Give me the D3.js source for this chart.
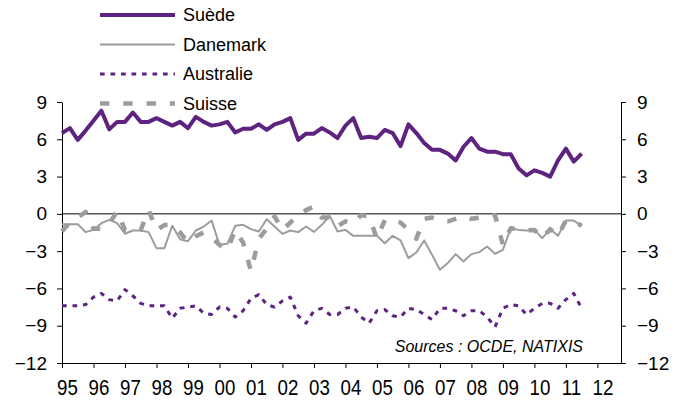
<!DOCTYPE html>
<html>
<head>
<meta charset="utf-8">
<script src="https://cdn.jsdelivr.net/npm/d3@7"></script>
<style>
  body { margin: 0; background: #fff; }
  svg { display: block; font-family: 'Liberation Sans', Arial, sans-serif; }
</style>
</head>
<body>
<div id="chart"></div>
<script>
// quarterly, 1995 Q1 .. 2012 Q4 on the axis, data up to 2011 Q3
const yearLabels = ['95', '96', '97', '98', '99', '00', '01', '02', '03', '04', '05', '06', '07', '08', '09', '10', '11', '12'];
const yTicks = [9, 6, 3, 0, -3, -6, -9, -12];

const suede = [
  6.5, 6.9, 5.95, 6.7, 7.5, 8.3, 6.8, 7.4, 7.4, 8.15, 7.4, 7.4, 7.7, 7.4, 7.1, 7.4,
  6.9, 7.8, 7.4, 7.1, 7.2, 7.4, 6.55, 6.85, 6.85, 7.2, 6.75, 7.2, 7.4, 7.7, 5.95, 6.45,
  6.45, 6.9, 6.55, 6.1, 7.1, 7.7, 6.1, 6.2, 6.1, 6.75, 6.5, 5.45, 7.2, 6.5, 5.7, 5.15,
  5.15, 4.85, 4.3, 5.4, 6.1, 5.25, 5.0, 5.0, 4.8, 4.8, 3.65, 3.1, 3.5, 3.3, 3.0, 4.3,
  5.25, 4.2, 4.85
];
const danemark = [
  -0.83, -0.83, -0.83, -1.47, -1.29, -0.75, -0.48, -0.75, -1.6, -1.34, -1.34, -1.47, -2.76, -2.76, -0.96, -2.04,
  -2.2, -1.34, -1.02, -0.54, -2.49, -2.41, -0.96, -0.88, -1.23, -1.42, -0.43, -1.02, -1.61, -1.34, -1.47, -1.02,
  -1.45, -0.88, -0.16, -1.42, -1.29, -1.77, -1.77, -1.77, -1.77, -2.36, -1.77, -2.14, -3.56, -3.11, -2.14, -3.3,
  -4.5, -3.96, -3.24, -3.83, -3.24, -3.08, -2.63, -3.22, -2.89, -1.15, -1.29, -1.34, -1.29, -1.95, -1.23, -1.77,
  -0.54, -0.54, -0.96
];
const australie = [
  -7.4, -7.4, -7.4, -7.3, -6.7, -6.4, -6.9, -7.0, -6.1, -6.6, -7.2, -7.4, -7.4, -7.4, -8.4, -7.6,
  -7.5, -7.4, -8.0, -8.1, -7.5, -7.6, -8.3, -7.8, -6.8, -6.5, -7.3, -7.5, -7.0, -6.7, -8.2, -8.8,
  -7.8, -7.6, -8.1, -8.1, -7.6, -7.5, -8.3, -8.8, -7.8, -7.7, -8.2, -8.3, -7.6, -7.7, -8.1, -8.5,
  -7.6, -7.6, -7.8, -8.2, -7.8, -7.8, -8.3, -9.1, -7.6, -7.3, -7.4, -8.1, -7.6, -7.2, -7.2, -7.6,
  -6.9, -6.4, -7.6
];
const suisse = [
  -1.4, -0.7, -0.3, 0.15, -1.2, -1.2, -0.8, 0.2, -1.3, -1.3, -1.3, 0.3, -1.3, -0.9, -0.9, -1.5,
  -2.3, -1.8, -1.5, -1.9, -2.5, -2.9, -1.3, -2.3, -4.6, -2.0, -1.2, -0.2, -1.3, -0.7, -0.1, 0.3,
  0.6, -0.3, -0.3, -1.0, -0.6, -0.8, -0.1, -0.2, -2.0, -0.5, -0.5, -0.7, -1.3, -2.0, -0.4, -0.3,
  -0.5, -0.6, -0.4, -0.2, -0.4, -0.3, -0.2, -0.1, -2.5, -1.15, -1.29, -1.34, -1.29, -1.95, -1.23, -1.77,
  -0.54, -0.54, -0.96
];

const Purple = '#5e2281';
const Gray = '#9c9c9c';

const series = [
  { name: 'Suède', values: suede, color: Purple, width: 4, dash: null },
  { name: 'Danemark', values: danemark, color: Gray, width: 2, dash: null },
  { name: 'Australie', values: australie, color: Purple, width: 3, dash: '4.7,5.8' },
  { name: 'Suisse', values: suisse, color: Gray, width: 4.5, dash: '9.3,14' },
];

const quarters = [];
yearLabels.forEach((yr) => {
  for (let q = 1; q <= 4; q++) quarters.push(yr + 'T' + q);
});

const width = 686;
const height = 409;

const svg = d3
  .select('#chart')
  .append('svg')
  .attr('width', width)
  .attr('height', height);

const x = d3.scalePoint().domain(d3.range(quarters.length)).range([62, 621]);
const y = d3.scaleLinear().domain([-12, 9]).range([363, 102]);

// left axis
const left = svg
  .append('g')
  .attr('transform', 'translate(62,0)')
  .call(d3.axisLeft(y).tickValues(yTicks).tickSize(5).tickSizeOuter(0).tickPadding(10));

// right axis
const right = svg
  .append('g')
  .attr('transform', 'translate(621,0)')
  .call(d3.axisRight(y).tickValues(yTicks).tickSize(5).tickSizeOuter(0).tickPadding(11));

// bottom axis
const bottom = svg
  .append('g')
  .attr('transform', `translate(0,${y(-12)})`)
  .call(
    d3
      .axisBottom(x)
      .tickValues(d3.range(0, quarters.length, 4))
      .tickFormat((d) => yearLabels[d / 4])
      .tickSize(5)
      .tickSizeOuter(0)
      .tickPadding(11)
  );

[left, right, bottom].forEach((g) => {
  g.select('.domain').attr('stroke', '#000');
  g.selectAll('.tick line').attr('stroke', '#000');
  g.selectAll('text').attr('font-size', 19).attr('fill', '#000').attr('font-family', null);
});

// year labels: taller, narrower glyphs
bottom
  .selectAll('text')
  .attr('font-size', 22)
  .attr('dx', 5.9)
  .attr('transform', 'scale(0.85,1)');

// zero line
svg
  .append('line')
  .attr('x1', 62)
  .attr('x2', 621)
  .attr('y1', y(0))
  .attr('y2', y(0))
  .attr('stroke', '#000')
  .attr('stroke-width', 1);

// lines
const line = d3
  .line()
  .x((d, i) => x(i))
  .y((d) => y(d));

svg
  .selectAll('.serie')
  .data(series)
  .join('path')
  .attr('class', 'serie')
  .attr('d', (d) => line(d.values))
  .attr('fill', 'none')
  .attr('stroke', (d) => d.color)
  .attr('stroke-width', (d) => d.width)
  .attr('stroke-dasharray', (d) => d.dash)
  .attr('stroke-linejoin', 'round');

// legend
const legend = svg
  .selectAll('.legend')
  .data(series)
  .join('g')
  .attr('class', 'legend')
  .attr('transform', (d, i) => `translate(100,${15 + i * 29.5})`);

legend
  .append('line')
  .attr('x1', 0)
  .attr('x2', 75)
  .attr('stroke', (d) => d.color)
  .attr('stroke-width', (d) => d.width)
  .attr('stroke-dasharray', (d) => d.dash);

legend
  .append('text')
  .attr('x', 83)
  .attr('dy', '0.35em')
  .attr('font-size', 18)
  .text((d) => d.name);

// source
svg
  .append('text')
  .attr('x', 583)
  .attr('y', 352)
  .attr('text-anchor', 'end')
  .attr('font-size', 16)
  .attr('font-style', 'italic')
  .text('Sources : OCDE, NATIXIS');
</script>
</body>
</html>
